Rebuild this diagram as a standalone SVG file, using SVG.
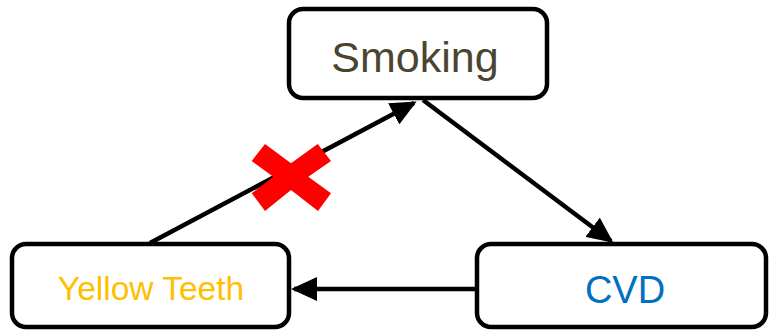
<svg xmlns="http://www.w3.org/2000/svg" width="770" height="330" viewBox="0 0 770 330">
<style>
.box{fill:#fff;stroke:#000;stroke-width:4.5}
.lbl{font-family:"Liberation Sans",Arial,sans-serif;text-anchor:middle}
.edge{stroke:#000;stroke-width:4.5;fill:none;marker-end:url(#ah)}
</style>
<defs>
<marker id="ah" markerUnits="userSpaceOnUse" markerWidth="26" markerHeight="24" viewBox="0 0 26 24" refX="23" refY="12" orient="auto">
<path d="M0,0 L26,12 L0,24 Z" fill="#000"/>
</marker>
</defs>
<rect width="770" height="330" fill="#fff"/>
<g id="connectors">
<line class="edge" x1="150" y1="243" x2="414" y2="103"/>
<line class="edge" x1="423" y1="100" x2="611" y2="241"/>
<line class="edge" x1="478" y1="289" x2="294" y2="289"/>
</g>
<g id="node-smoking">
<rect class="box" x="289" y="9" width="258" height="89" rx="14"/>
<text class="lbl" x="415" y="72" font-size="43" fill="#4a4530">Smoking</text>
</g>
<g id="node-yellow-teeth">
<rect class="box" x="12" y="244" width="277" height="83" rx="14"/>
<text class="lbl" x="151" y="300" font-size="33.5" fill="#FFC000">Yellow Teeth</text>
</g>
<g id="node-cvd">
<rect class="box" x="477" y="244" width="289" height="83" rx="14"/>
<text class="lbl" x="625" y="303" font-size="38" fill="#0070C0">CVD</text>
</g>
<g id="cross">
<polygon fill="#FF0000" points="265,144 291,163.3 317.7,144 331,161 308.3,176.7 331,193.3 318,211 291,190 265,211 251.7,193.3 273.3,176.7 251.7,161"/>
</g>
</svg>
